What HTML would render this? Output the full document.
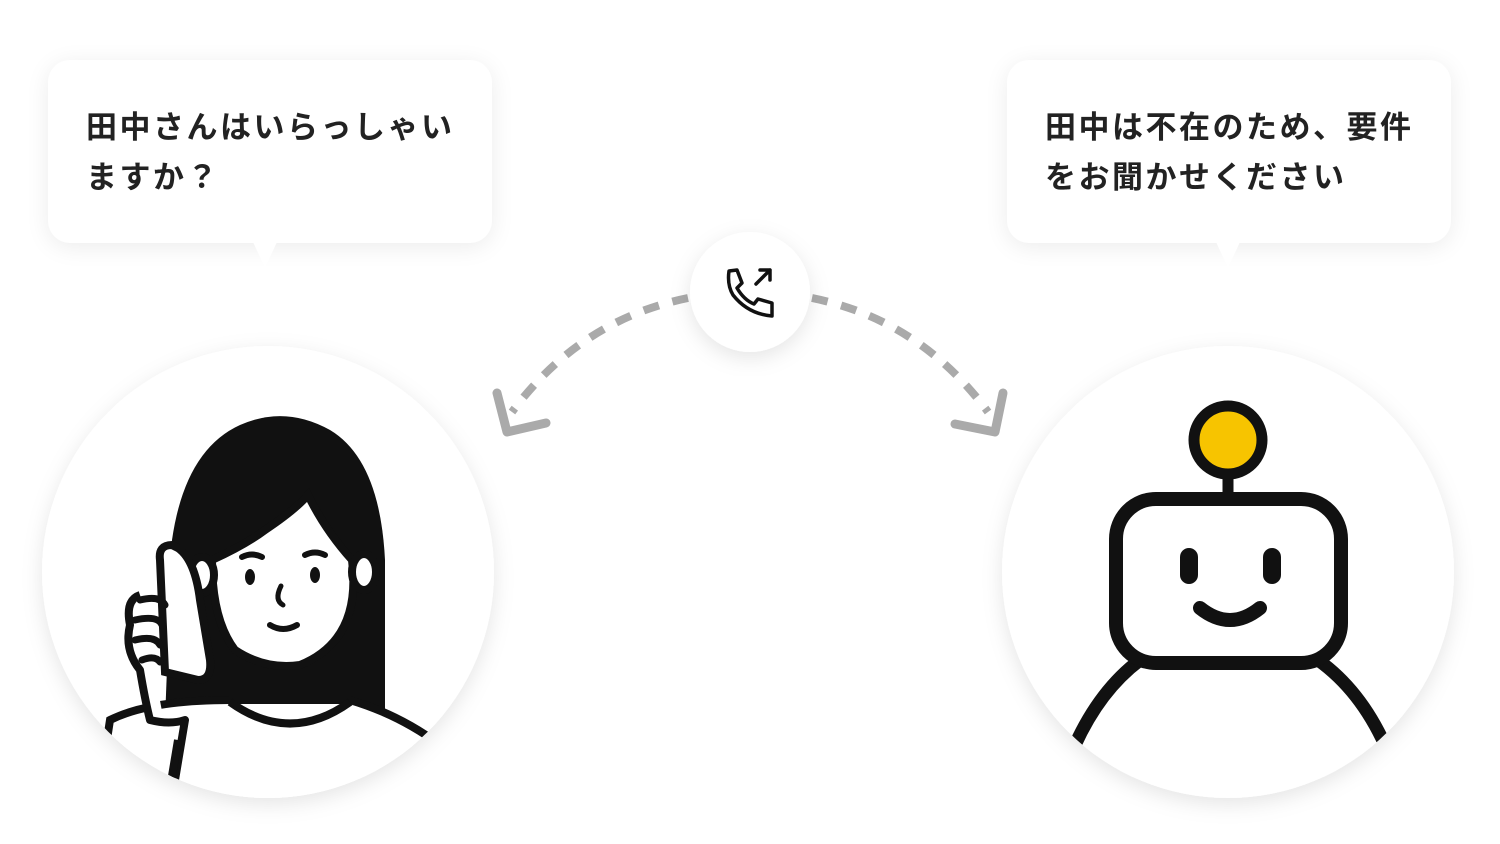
<!DOCTYPE html>
<html><head><meta charset="utf-8"><style>
body{margin:0;width:1500px;height:844px;background:#fff;overflow:hidden;font-family:"Liberation Sans","Noto Sans CJK JP",sans-serif;}
.b{position:absolute;top:60px;width:444px;height:183px;background:#fff;border-radius:22px;box-shadow:0 4px 24px rgba(0,0,0,.08);}
.b p{margin:0;position:absolute;left:38px;top:43px;font-size:31px;font-weight:700;line-height:50px;letter-spacing:2.5px;color:#222;white-space:nowrap;}
</style></head><body>
<div class="b" style="left:48px"><p>田中さんはいらっしゃい<br>ますか？</p></div>
<div class="b" style="left:1007px"><p>田中は不在のため、要件<br>をお聞かせください</p></div>
<svg width="1500" height="844" style="position:absolute;left:0;top:0">
<defs>
<filter id="sh" x="-20%" y="-20%" width="140%" height="140%"><feDropShadow dx="0" dy="6" stdDeviation="10" flood-color="#000" flood-opacity=".1"/></filter>
<clipPath id="cl"><circle cx="268" cy="572" r="226"/></clipPath>
<clipPath id="cr"><circle cx="1228" cy="572" r="226"/></clipPath>
</defs>
<polygon points="253,242 277,242 265,268" fill="#fff"/>
<polygon points="1216,242 1240,242 1228,268" fill="#fff"/>
<circle cx="268" cy="572" r="226" fill="#fff" filter="url(#sh)"/>
<circle cx="1228" cy="572" r="226" fill="#fff" filter="url(#sh)"/>
<path d="M688,298 Q580,320 512,412" fill="none" stroke="#aaa" stroke-width="8" stroke-dasharray="16,14"/>
<path d="M812,298 Q920,320 988,412" fill="none" stroke="#aaa" stroke-width="8" stroke-dasharray="16,14"/>
<polyline points="497,393 507,432 546,423" fill="none" stroke="#aaa" stroke-width="9" stroke-linecap="round" stroke-linejoin="round"/>
<polyline points="1003,393 995,432 955,424" fill="none" stroke="#aaa" stroke-width="9" stroke-linecap="round" stroke-linejoin="round"/>
<circle cx="750" cy="292" r="60" fill="#fff" filter="url(#sh)"/>
<g fill="none" stroke="#111" stroke-width="3.5" stroke-linejoin="round" stroke-linecap="round">
<path d="M729,271 L737,270 L742,283 L737,288 Q744,300 754,304 L758,299 L772,303 L772,316 Q748,314 733,295 Q727,285 729,271Z"/>
<path d="M756,284 L770,270 M760,270 L770,270 L770,280"/>
</g>
<g clip-path="url(#cl)">
<path d="M165,720 L172,540 Q185,450 240,425 Q285,405 330,430 Q380,460 385,560 L385,720Z" fill="#111"/>
<path d="M212,560 Q245,545 265,530 Q295,510 308,495 Q325,530 352,560 Q362,640 300,665 Q265,670 235,650 Q212,620 212,560Z" fill="#fff" stroke="#111" stroke-width="8"/>
<ellipse cx="202" cy="575" rx="12" ry="18" fill="#fff" stroke="#111" stroke-width="8"/>
<ellipse cx="364" cy="572" rx="12" ry="18" fill="#fff" stroke="#111" stroke-width="8"/>
<path d="M257,665 L257,700 M312,665 L312,700" stroke="#111" stroke-width="8"/>
<path d="M90,850 L110,720 Q150,700 230,700 L350,700 Q400,715 440,745 L440,850Z" fill="#fff" stroke="#111" stroke-width="8"/>
<path d="M230,702 Q290,745 350,702" fill="none" stroke="#111" stroke-width="8"/>
<ellipse cx="250" cy="577" rx="5" ry="8" fill="#111"/><ellipse cx="315" cy="575" rx="5" ry="8" fill="#111"/>
<path d="M242,557 Q252,552 262,557 M305,555 Q315,550 325,555" stroke="#111" stroke-width="6" fill="none" stroke-linecap="round"/>
<path d="M281,586 Q274,600 283,605" stroke="#111" stroke-width="5" fill="none" stroke-linecap="round"/>
<path d="M270,625 Q283,633 297,625" stroke="#111" stroke-width="6" fill="none" stroke-linecap="round"/>
<path d="M160,560 Q158,545 172,545 L178,548 Q195,560 200,600 L210,660 Q212,680 198,680 L165,672 Z" fill="#fff" stroke="#111" stroke-width="8"/>
<path d="M140,595 Q125,600 130,625 Q124,650 140,670 Q145,700 150,720 Q170,725 185,720 L175,780" fill="#fff" stroke="#111" stroke-width="8" stroke-linejoin="round"/>
<path d="M140,600 Q160,595 165,605 M135,620 Q158,615 162,625 M135,640 Q155,635 160,645 M142,660 Q155,655 160,662" stroke="#111" stroke-width="7" fill="none" stroke-linecap="round"/>
<path d="M178,740 L168,800" stroke="#111" stroke-width="8"/>
</g>
<g clip-path="url(#cr)">
<circle cx="1228" cy="440" r="34" fill="#F7C400" stroke="#111" stroke-width="11"/>
<path d="M1228,474 L1228,500" stroke="#111" stroke-width="11"/>
<path d="M1075,745 Q1100,690 1140,660 M1318,660 Q1360,690 1385,745" fill="none" stroke="#111" stroke-width="13"/>
<rect x="1116" y="499" width="225" height="164" rx="40" fill="#fff" stroke="#111" stroke-width="14"/>
<rect x="1180" y="548" width="18" height="36" rx="9" fill="#111"/>
<rect x="1263" y="548" width="18" height="36" rx="9" fill="#111"/>
<path d="M1200,608 Q1230,632 1260,608" fill="none" stroke="#111" stroke-width="14" stroke-linecap="round"/>
</g>
</svg>
</body></html>
